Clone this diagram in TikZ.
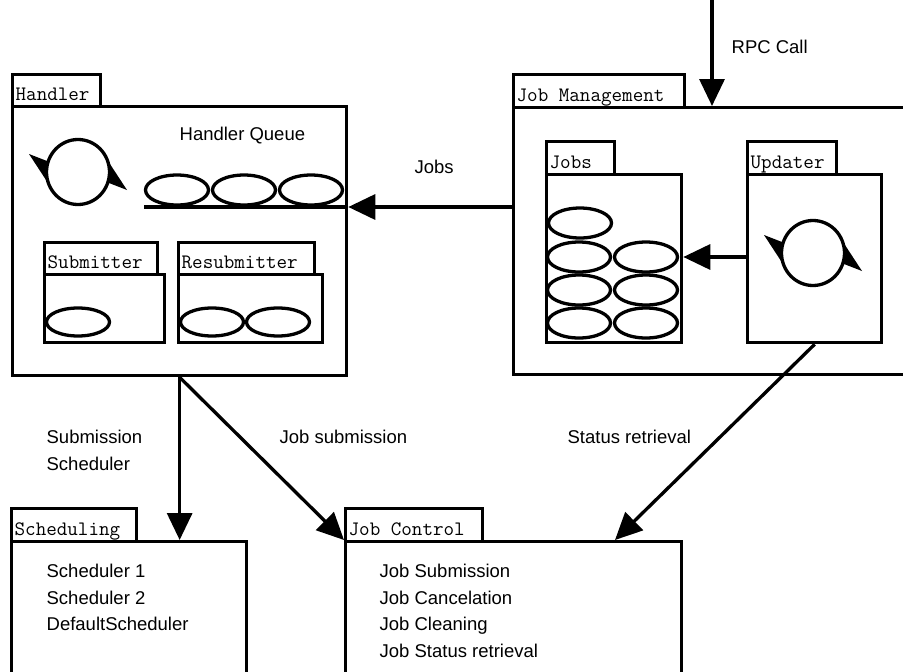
\documentclass[tikz,border=0pt]{standalone}
\usepackage{fontspec}
\setmainfont{Liberation Sans}
\usetikzlibrary{arrows.meta,shapes.geometric,calc}

\begin{document}
\begin{tikzpicture}[x=1pt,y=-1pt,line width=3.3pt,
  box/.style={draw, rectangle, inner sep=0pt, anchor=north west},
  tabtext/.style={anchor=base west, inner sep=0pt, xshift=3pt, yshift=8pt,
    font=\ttfamily\fontsize{20.5}{22}\selectfont},
  lbl/.style={anchor=north west, inner sep=0pt, align=left,
    font=\fontsize{18.5}{26.5}\selectfont},
  plain/.style={anchor=base west, inner sep=0pt, font=\fontsize{18.5}{22}\selectfont},
  jobel/.style={draw, ellipse, inner sep=0pt, minimum width=63pt, minimum height=30pt},
  cyc/.style={draw, ellipse, inner sep=0pt, minimum width=63pt, minimum height=65pt},
  arr/.style={-{Triangle[length=27pt,width=25pt]}}]

\useasboundingbox (0,0) rectangle (903,672);
\clip (0,0) rectangle (903,672);

% ---------- Handler ----------
\node[box, minimum width=88pt, minimum height=32pt] (handlertab) at (11,73) {};
\node[tabtext] (handlertxt) at (handlertab.south west) {Handler};
\node[box, minimum width=334pt, minimum height=269pt] (handler) at (11,105) {};

\node[cyc] (hcyc) at (78,172) {};
\fill[shift={(hcyc.center)}] (-49,-18) -- (-31,-11) -- (-30,11) -- cycle;
\fill[shift={(hcyc.center)}] (49,18) -- (31,11) -- (30,-11) -- cycle;

\node[plain] (hqtxt) at (178,140) {Handler Queue};
\node[jobel] (q1) at (177,190) {};
\node[jobel] (q2) at (244,190) {};
\node[jobel] (q3) at (311,190) {};
\coordinate (qa) at (144,207);
\draw (qa) -- (handler.east |- qa);

\node[box, minimum width=113pt, minimum height=32pt] (subtab) at (43,241) {};
\node[tabtext] (subtxt) at (subtab.south west) {Submitter};
\node[box, minimum width=120pt, minimum height=68pt] (sub) at (43,273) {};
\node[jobel, minimum height=28pt] (s1) at (78,322) {};

\node[box, minimum width=136pt, minimum height=32pt] (resubtab) at (177,241) {};
\node[tabtext] (resubtxt) at (resubtab.south west) {Resubmitter};
\node[box, minimum width=144pt, minimum height=68pt] (resub) at (177,273) {};
\node[jobel, minimum height=28pt] (r1) at (212,322) {};
\node[jobel, minimum height=28pt] (r2) at (278,322) {};

% ---------- Job Management ----------
\node[box, minimum width=171pt, minimum height=33pt] (jmtab) at (512,73) {};
\node[tabtext] (jmtxt) at (jmtab.south west) {Job Management};
\node[box, minimum width=410pt, minimum height=267pt] (jm) at (512,106) {};

\node[box, minimum width=68pt, minimum height=33pt] (jobstab) at (545,140) {};
\node[tabtext] (jobstxt) at (jobstab.south west) {Jobs};
\node[box, minimum width=135pt, minimum height=168pt] (jobs) at (545,173) {};
\node[jobel] (j0) at (580,223) {};
\node[jobel] (j1) at (579,257) {};
\node[jobel] (j2) at (646,257) {};
\node[jobel] (j3) at (579,290) {};
\node[jobel] (j4) at (646,290) {};
\node[jobel] (j5) at (579,323) {};
\node[jobel] (j6) at (646,323) {};

\node[box, minimum width=89pt, minimum height=33pt] (updtab) at (746,140) {};
\node[tabtext] (updtxt) at (updtab.south west) {Updater};
\node[box, minimum width=134pt, minimum height=168pt] (upd) at (746,173) {};
\node[cyc] (ucyc) at (813,253) {};
\fill[shift={(ucyc.center)}] (-49,-18) -- (-31,-11) -- (-30,11) -- cycle;
\fill[shift={(ucyc.center)}] (49,18) -- (31,11) -- (30,-11) -- cycle;

% ---------- Scheduling ----------
\node[box, minimum width=125pt, minimum height=33pt] (schedtab) at (10,507) {};
\node[tabtext] (schedtxt) at (schedtab.south west) {Scheduling};
\node[box, minimum width=235pt, minimum height=160pt] (sched) at (10,540) {};
\node[lbl] (schedlist) at (45,562.5) {Scheduler 1\\Scheduler 2\\DefaultScheduler};

% ---------- Job Control ----------
\node[box, minimum width=137pt, minimum height=33pt] (jctab) at (344,507) {};
\node[tabtext] (jctxt) at (jctab.south west) {Job Control};
\node[box, minimum width=336pt, minimum height=160pt] (jc) at (344,540) {};
\node[lbl] (jclist) at (378,562.5)
  {Job Submission\\Job Cancelation\\Job Cleaning\\Job Status retrieval};

% ---------- connectors ----------
\coordinate (rpcin) at (712,-5);
\draw[arr] (rpcin) -- (rpcin |- jm.north);
\node[plain] (rpctxt) at (730,53) {RPC Call};

\coordinate (jobsline) at (jm.west |- qa);
\draw[arr] (jobsline) -- (handler.east |- qa);
\node[plain] (jobslbl) at (413,173) {Jobs};

\coordinate (updline) at (upd.west |- j1);
\draw[arr] (updline) -- (jobs.east |- j1);

\draw[arr] (handler.south) -- (handler.south |- sched.north);
\draw[arr] (handler.south) -- (jc.north west);
\draw[arr] (upd.south) -- ($(jc.north west)+(271,0)$);

\node[lbl, font=\fontsize{18.5}{27}\selectfont] (subsched) at (45,428) {Submission\\Scheduler};
\node[lbl] (jobsub) at (278,428) {Job submission};
\node[lbl] (statret) at (566,428) {Status retrieval};
\end{tikzpicture}
\end{document}
